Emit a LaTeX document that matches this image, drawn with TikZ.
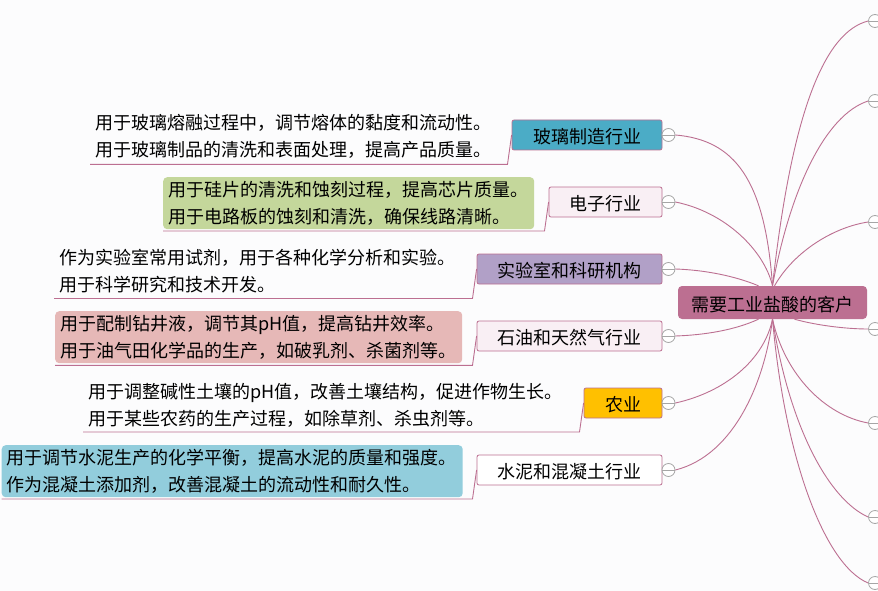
\documentclass[tikz,border=0pt]{standalone}
\usepackage{fontspec}
\setmainfont{Noto Sans CJK SC}
\definecolor{linepink}{HTML}{BC6F91}
\definecolor{paper}{HTML}{FCFCFD}
\definecolor{palepink}{HTML}{F9EFF4}
\definecolor{tealbox}{HTML}{4BACC6}
\definecolor{purplebox}{HTML}{B1A0C7}
\definecolor{amberbox}{HTML}{FFC000}
\definecolor{leafgreen}{HTML}{C4D79B}
\definecolor{leafrose}{HTML}{E6B8B7}
\definecolor{leafblue}{HTML}{92CDDC}
\definecolor{foldgray}{HTML}{A6A6A6}
\tikzset{
  hubbox/.style={draw=none, fill=linepink, rounded corners=4pt, minimum width=189pt, minimum height=33pt, inner sep=0pt, text height=19.5pt, text depth=2pt, font=\fontsize{18}{27}\selectfont},
  topicbox/.style={draw=linepink, line width=0.8pt, rounded corners=2pt, minimum height=30pt, inner sep=0pt, text height=19.5pt, text depth=2pt, font=\fontsize{18}{27}\selectfont},
  leafbox/.style={anchor=north west, rounded corners=4pt, inner xsep=5pt, inner ysep=0pt, minimum height=52pt, align=left, font=\fontsize{18}{27}\selectfont},
  foldmark/.style={circle, draw=foldgray, fill=white, line width=0.8pt, minimum size=13pt, inner sep=0pt, path picture={\draw[foldgray, line width=0.8pt] (path picture bounding box.west) -- (path picture bounding box.east);}},
  branchline/.style={draw=linepink, line width=0.9pt}
}
\begin{document}
\begin{tikzpicture}[x=1pt,y=-1pt]
    \useasboundingbox (0,0) rectangle (878,591);
    \fill[paper] (0,0) rectangle (878,591);

    %centre
    \node[hubbox] (hub) at (772.5,302.5) {需要工业盐酸的客户};

    %industries
    \node[topicbox, fill=tealbox, minimum width=150pt] (glass) at (587,135) {玻璃制造行业};
    \node[topicbox, fill=palepink, minimum width=113pt] (chip) at (605.5,202) {电子行业};
    \node[topicbox, fill=purplebox, minimum width=185pt] (lab) at (569.5,269) {实验室和科研机构};
    \node[topicbox, fill=palepink, minimum width=185pt] (oil) at (569.5,336) {石油和天然气行业};
    \node[topicbox, fill=amberbox, minimum width=78pt] (farm) at (623,403) {农业};
    \node[topicbox, fill=white, minimum width=185pt] (cement) at (569.5,470) {水泥和混凝土行业};

    %texts
    \node[leafbox, text width=400pt] (glassleaf) at (90,110) {用于玻璃熔融过程中，调节熔体的黏度和流动性。\\用于玻璃制品的清洗和表面处理，提高产品质量。};
    \node[leafbox, fill=leafgreen, text width=361pt] (chipleaf) at (163,177) {用于硅片的清洗和蚀刻过程，提高芯片质量。\\用于电路板的蚀刻和清洗，确保线路清晰。};
    \node[leafbox, text width=400pt] (lableaf) at (54,244.5) {作为实验室常用试剂，用于各种化学分析和实验。\\用于科学研究和技术开发。};
    \node[leafbox, fill=leafrose, text width=397pt] (oilleaf) at (55,311) {用于配制钻井液，调节其pH值，提高钻井效率。\\用于油气田化学品的生产，如破乳剂、杀菌剂等。};
    \node[leafbox, text width=480pt] (farmleaf) at (83,379) {用于调整碱性土壤的pH值，改善土壤结构，促进作物生长。\\用于某些农药的生产过程，如除草剂、杀虫剂等。};
    \node[leafbox, fill=leafblue, text width=451pt] (cementleaf) at (1.5,445) {用于调节水泥生产的化学平衡，提高水泥的质量和强度。\\作为混凝土添加剂，改善混凝土的流动性和耐久性。};

    %fold marks
    \foreach \name/\px/\py in {foldglass/668.5/135, foldchip/668.5/202, foldlab/668.5/269, foldoil/668.5/336, foldfarm/668.5/403, foldcement/668.5/470, foldra/875/21, foldrb/875/101, foldrc/875/222, foldrd/875/329, foldre/875/423, foldrf/875/517, foldrg/875/583}
        \node[foldmark] (\name) at (\px,\py) {};

    %underlines
    \coordinate (glassbend) at (507.5,164.3);
    \coordinate (chipbend) at (544.5,231);
    \coordinate (labbend) at (472.5,298.5);
    \coordinate (oilbend) at (472.5,365.3);
    \coordinate (farmbend) at (579.5,432);
    \coordinate (cementbend) at (472.5,499);
    \foreach \name in {glass, chip, lab, oil, farm, cement}
        \draw[branchline] (\name.west) -- (\name bend) -- (\name bend -| \name leaf.west);

    %left branches
    \draw[branchline] (hub.north) .. controls (765,180) and (735,140) .. (foldglass.east);
    \draw[branchline] (hub.north) .. controls (764,250) and (725,212) .. (foldchip.east);
    \draw[branchline] ([xshift=-14pt]hub.north) .. controls (735,276) and (705,270) .. (foldlab.east);
    \draw[branchline] ([xshift=-14pt]hub.south) .. controls (735,330) and (705,335) .. (foldoil.east);
    \draw[branchline] (hub.south) .. controls (764,360) and (725,392) .. (foldfarm.east);
    \draw[branchline] (hub.south) .. controls (765,380) and (735,455) .. (foldcement.east);

    %right branches
    \draw[branchline] (hub.north) .. controls (792,110) and (825,32) .. (foldra.west);
    \draw[branchline] (hub.north) .. controls (790,190) and (825,115) .. (foldrb.west);
    \draw[branchline] ([xshift=2pt]hub.north) .. controls (795,250) and (835,227) .. (foldrc.west);
    \draw[branchline] ([xshift=22pt]hub.south) .. controls (815,325) and (845,329) .. (foldrd.west);
    \draw[branchline] (hub.south) .. controls (785,375) and (825,415) .. (foldre.west);
    \draw[branchline] (hub.south) .. controls (790,430) and (830,500) .. (foldrf.west);
    \draw[branchline] (hub.south) .. controls (785,460) and (825,565) .. (foldrg.west);
\end{tikzpicture}
\end{document}
